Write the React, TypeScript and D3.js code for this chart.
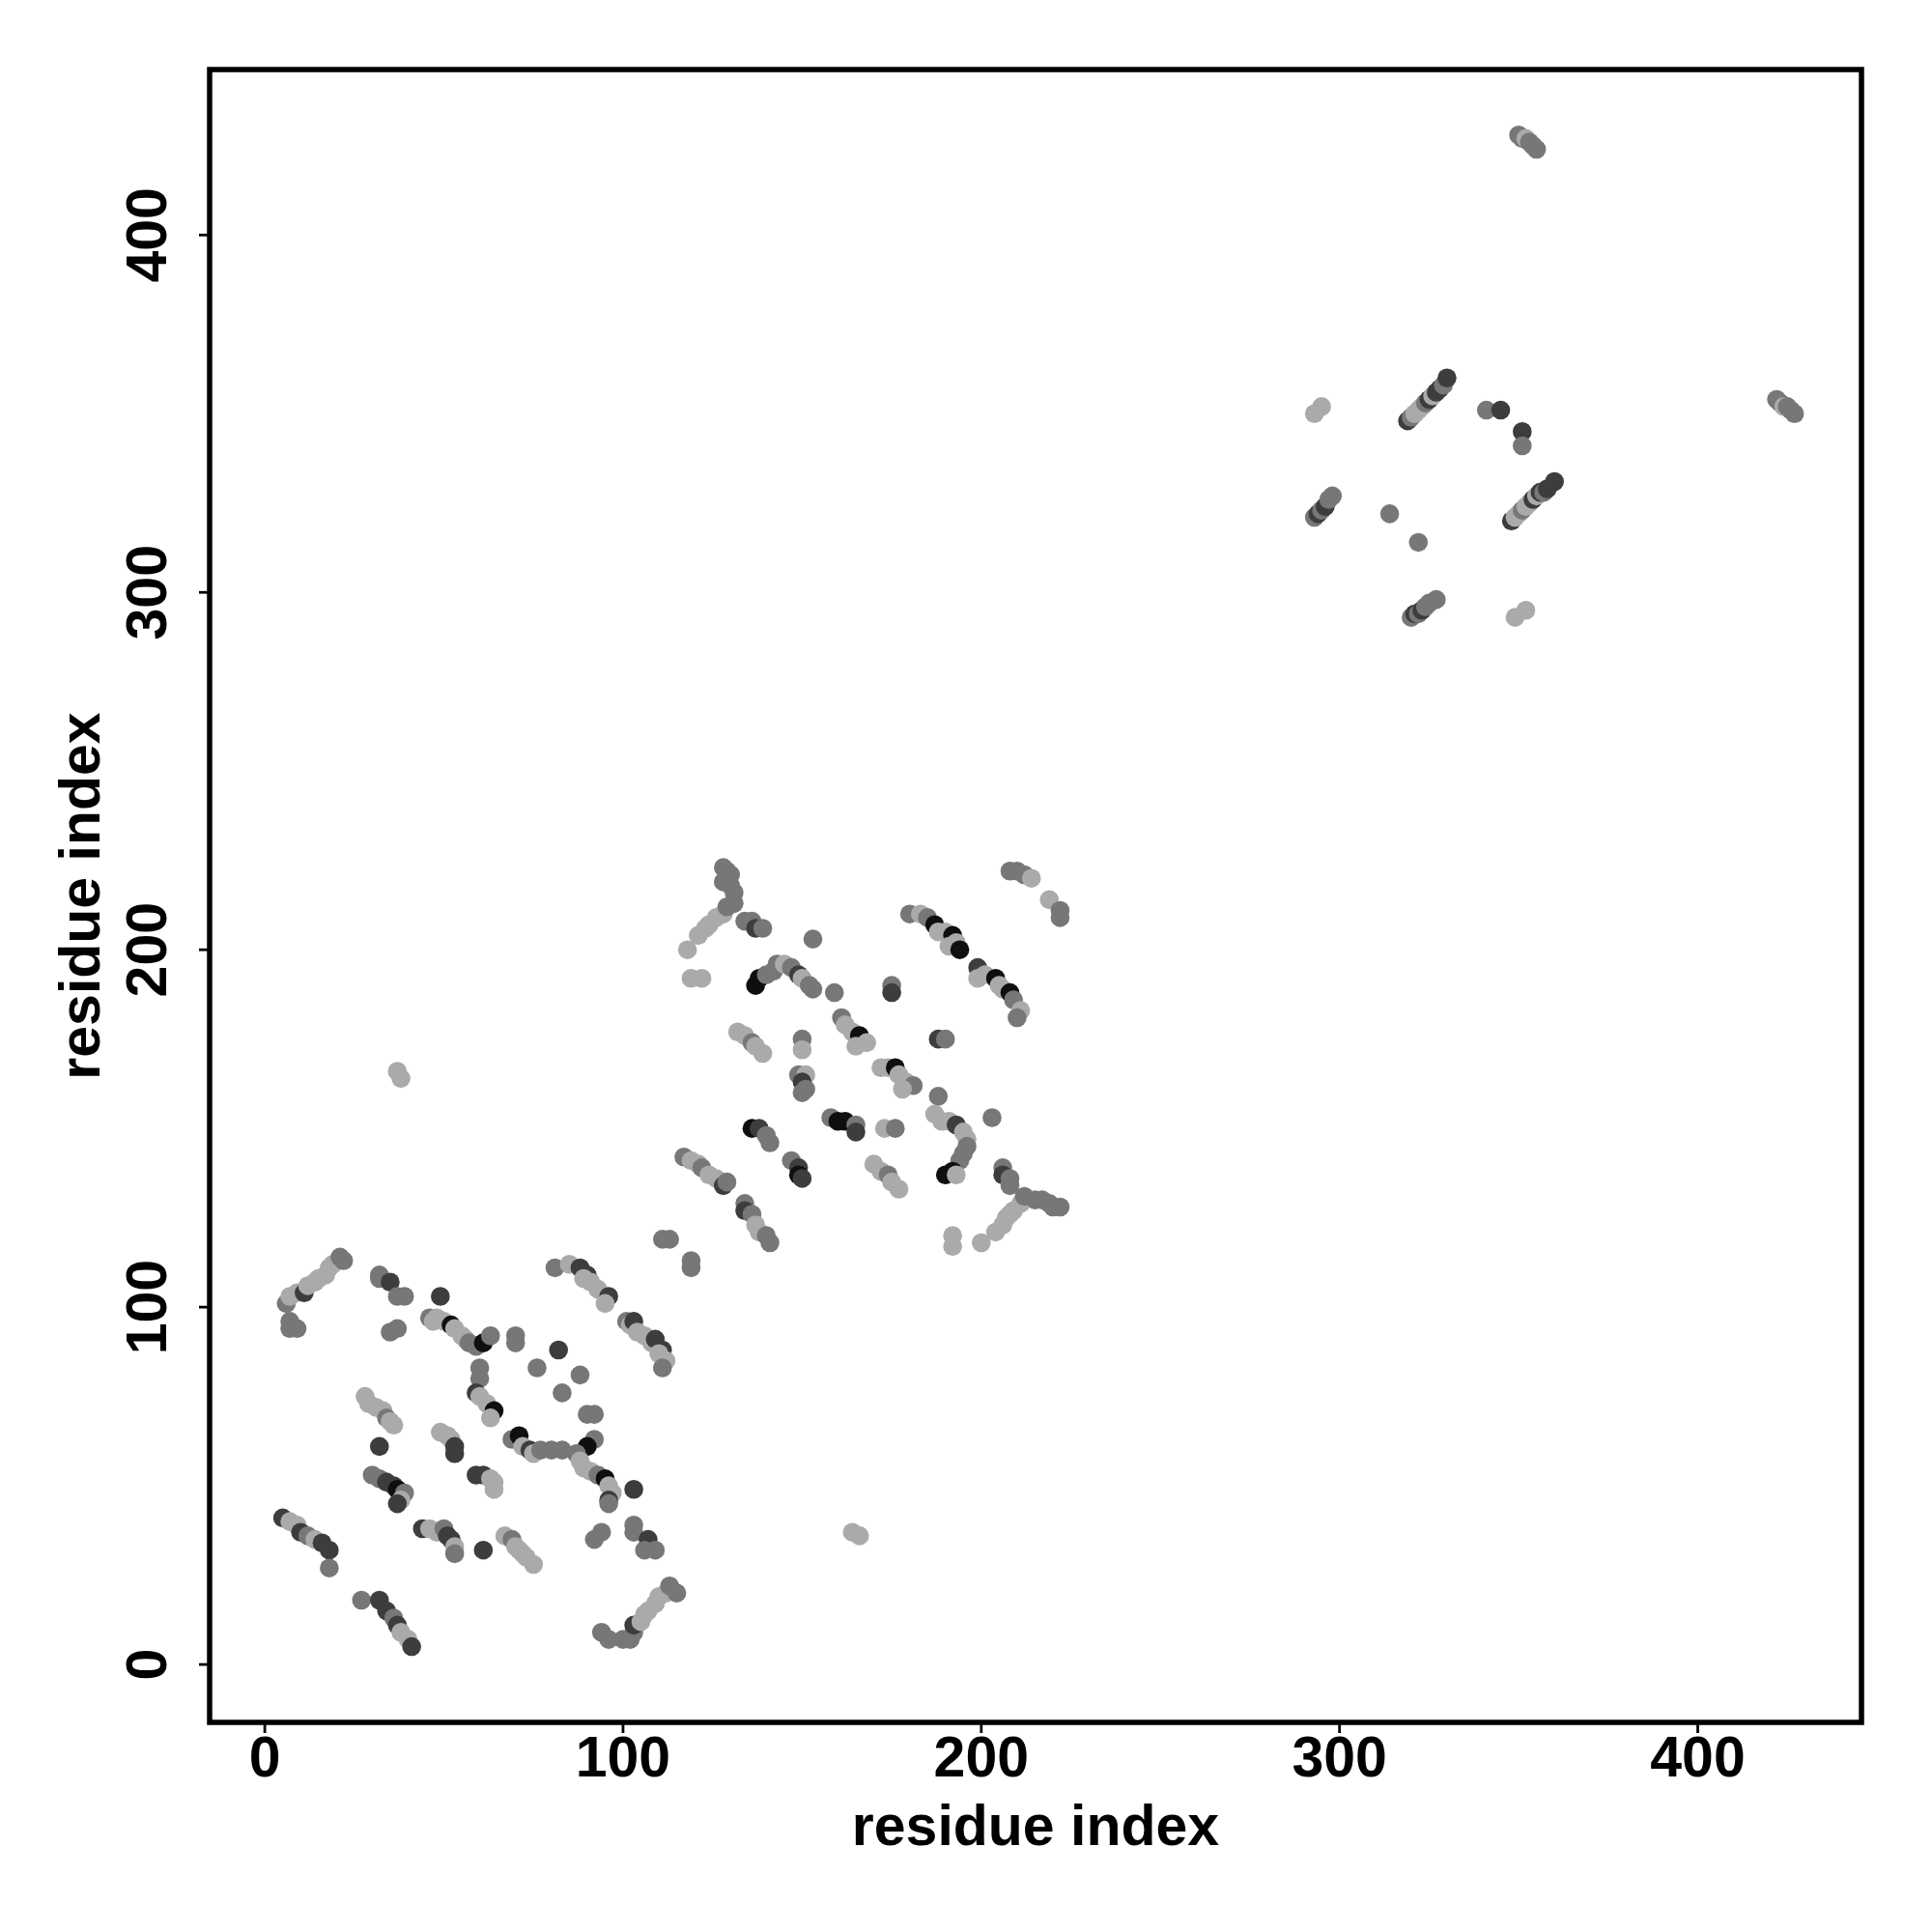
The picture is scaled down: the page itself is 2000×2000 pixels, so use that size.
import React from "react";
import * as d3 from "d3";

// level: 0 = black, 1 = dark grey, 2 = mid grey, 3 = light grey
type P = [number, number, number];

const lowerBlock: P[] = [
  [5,41,1],[7,40,3],[9,39,3],[10,37,1],[12,36,2],[14,35,3],[16,34,1],[18,32,1],[18,27,2],
  [27,18,2],[32,18,1],[34,15,1],[36,13,2],[37,11,1],[38,9,3],[40,7,3],[41,5,1],
  [28,75,3],[29,73,3],[31,72,3],[33,71,3],[34,69,2],[35,68,3],[36,67,3],
  [32,61,1],
  [30,53,2],[32,52,2],[34,51,1],[36,50,1],[37,49,0],[39,48,2],[38,46,3],[37,45,1],
  [44,38,1],[46,38,3],[48,37,3],[50,38,2],[51,36,1],[52,35,1],[53,33,3],[53,31,2],
  [61,32,1],
  [67,36,3],[69,35,2],[70,33,3],[71,32,3],[72,31,3],[73,30,3],[75,28,3],
  [59,53,1],[61,53,1],[63,52,3],[64,51,3],[64,49,3],
  [49,65,3],[51,64,3],[52,63,3],[53,61,1],[53,59,1],
  [60,83,2],[60,80,2],[59,76,1],[60,75,3],[62,73,3],[64,71,0],[63,69,3],
  [69,63,2],[71,64,0],[72,61,3],[74,60,1],[75,59,3],[77,60,2],[80,60,2],[83,60,2],
  [76,83,2],[88,81,2],[83,76,2],[90,70,2],[92,70,2],[92,63,2],[90,61,0],
  [87,59,2],[88,57,3],[89,55,3],[91,54,3],[93,53,2],[95,52,0],[96,50,3],[97,48,3],[96,46,1],[96,45,2],
  [103,49,1],
  [92,35,2],[94,37,2],
  [103,39,2],[103,37,2],[107,35,1],[106,32,2],[109,32,2],
  [100,7,2],[102,7,2],[103,9,2],[103,11,1],[105,12,3],[106,14,3],[107,15,3],[109,17,3],[110,19,3],[112,20,3],[113,22,2],[115,20,2],
  [94,9,2],[96,7,2],
  [6,101,2],[7,103,3],[9,104,3],[11,104,1],[12,106,3],[14,107,3],[15,108,3],[17,109,3],[18,111,3],[19,112,3],[21,114,2],[22,113,2],
  [7,96,2],[9,94,2],[7,94,2],
  [32,109,2],[32,108,2],[35,107,1],[37,103,2],[39,103,2],
  [35,93,2],[37,94,2],
  [49,103,1],
  [46,97,2],[47,96,3],[48,97,3],[50,96,3],[52,95,0],[53,94,3],[55,92,3],[56,91,3],[57,90,2],[59,89,2],[61,90,0],[63,92,2],
  [70,92,2],[70,90,2],
  [81,111,2],[85,112,3],[88,111,1],[90,109,1],[91,107,3],[93,105,3],[96,103,1],[95,101,3],[89,108,3],
  [101,96,2],[102,95,3],[103,96,1],[104,93,3],[106,92,3],[108,90,3],[109,91,1],[111,88,1],[110,87,3],[112,85,3],[111,83,2],
  [82,88,1],
];

const offDiagonal: P[] = [
  [164,37,3],[166,36,3],
  [37,166,3],[38,164,3],
];

const middleBlock: P[] = [
  [111,119,2],[113,119,2],[119,113,2],[119,111,2],
  [117,142,2],[119,141,3],[121,140,3],[122,139,2],[124,137,3],[126,136,3],[128,134,1],[129,135,2],
  [134,129,2],[134,127,1],[136,126,2],[137,123,3],[138,121,3],[140,120,2],[141,118,2],
  [136,150,0],[138,150,1],[140,148,2],[141,146,2],
  [147,141,2],[149,139,1],[149,137,0],[150,136,1],
  [149,165,2],[151,165,3],[150,163,1],[151,161,2],[150,160,2],
  [158,153,2],[160,152,0],
  [172,167,3],[174,167,3],[176,167,0],[177,165,3],[179,163,3],[181,162,2],[178,161,3],
  [188,159,2],[203,153,2],
  [162,152,0],[165,151,2],[165,149,1],
  [173,150,3],[176,150,2],
  [187,154,3],[189,152,3],[191,152,3],[193,151,1],[195,149,3],[196,147,3],[196,145,2],[195,143,2],[194,141,2],[192,138,0],[190,137,0],[193,137,3],
  [170,140,3],[172,138,3],[174,137,2],[175,135,3],[177,133,3],
  [206,139,2],[206,137,1],[208,136,2],[208,134,2],
  [204,121,3],[206,123,3],[207,125,3],[208,126,3],[209,127,3],[211,129,3],[212,131,2],[215,130,2],[217,130,2],[219,129,2],[220,128,2],[222,128,2],
  [192,120,3],[192,117,3],[200,118,3],
  [128,223,2],[129,222,2],[130,221,2],[128,219,2],[130,218,2],[131,216,2],[131,213,2],
  [118,200,3],[121,204,3],[123,206,3],[124,207,3],[126,209,3],[128,210,3],[129,212,2],
  [119,192,3],[122,192,3],
  [134,208,2],[136,208,2],[137,206,1],[139,206,2],
  [153,203,2],
  [137,190,0],[138,192,0],[140,193,2],[142,194,2],[143,196,2],[145,196,3],[147,195,2],[149,193,1],[150,192,3],[152,190,2],[153,189,2],
  [159,188,2],
  [132,177,3],[134,176,3],[136,174,2],[137,173,3],[139,171,3],
  [150,175,2],[150,172,3],
  [208,222,2],[210,222,2],[212,221,2],[214,220,3],
  [219,214,3],[222,211,2],[222,209,2],
  [180,210,2],[183,210,3],[185,209,2],[187,207,0],[188,205,3],[190,205,3],[192,204,0],[193,202,3],[191,201,3],[194,200,0],
  [199,195,1],[199,192,3],[201,193,3],[204,192,0],[205,190,3],[206,189,3],[208,188,0],[209,186,2],[211,183,3],[210,181,2],
  [175,190,2],[175,188,1],
  [188,175,1],[190,175,2],
  [161,181,2],[162,179,3],[164,177,3],[166,176,0],[168,174,3],[165,173,3],
];

const upperBlock: P[] = [
  [350,428,2],[351,427,2],[352,427,3],[353,426,2],[354,425,2],[355,424,2],
  [422,354,2],[423,353,2],[424,352,3],[425,352,2],[426,351,2],[427,350,2],
  [293,350,3],[295,352,3],
  [319,348,1],[320,349,2],[321,350,3],[322,351,3],[323,352,3],[324,353,2],[325,354,1],[326,355,3],[327,356,1],[328,357,1],[329,358,2],[330,360,1],
  [341,351,2],[345,351,1],[351,345,1],[351,341,2],
  [293,321,2],[294,322,1],[295,323,2],[296,324,1],[297,326,2],[298,327,2],
  [314,322,2],[322,314,2],
  [348,320,1],[349,321,3],[350,322,3],[351,323,2],[352,324,3],[353,325,3],[354,326,1],[355,327,3],[356,328,1],[357,328,2],[358,329,1],[360,331,1],
  [320,293,2],[321,294,1],[322,294,2],[323,295,1],[324,296,2],[325,297,2],[327,298,2],
  [349,293,3],[352,295,3],
];

const xTicks = [0, 100, 200, 300, 400];
const yTicks = [0, 100, 200, 300, 400];
const xLabel = "residue index";
const yLabel = "residue index";

const levelColors = ["#0f0f0f", "#3d3d3d", "#777777", "#aaaaaa"];

export default function App() {
  const left = 217, right = 1927, top = 72, bottom = 1783;
  const x = d3.scaleLinear().domain([-15.4, 445.7]).range([left, right]);
  const y = d3.scaleLinear().domain([-16.2, 446.3]).range([bottom, top]);
  const color = d3.scaleOrdinal<number, string>().domain([0, 1, 2, 3]).range(levelColors);
  const points = [...lowerBlock, ...offDiagonal, ...middleBlock, ...upperBlock];
  const font = "'Liberation Sans', Arial, Helvetica, sans-serif";
  return (
    <svg width={2000} height={2000} style={{ position: "absolute", left: 0, top: 0, background: "#fff" }}
      fontFamily={font} fontWeight="bold">
      <rect x={0} y={0} width={2000} height={2000} fill="#fff" />
      {points.map((p, i) => (
        <circle key={i} cx={x(p[0])} cy={y(p[1])} r={9.8} fill={color(p[2])} />
      ))}
      <rect x={left} y={top} width={right - left} height={bottom - top} fill="none" stroke="#000" strokeWidth={5.5} />
      {xTicks.map((t) => (
        <g key={"x" + t}>
          <line x1={x(t)} x2={x(t)} y1={bottom} y2={bottom + 11} stroke="#000" strokeWidth={2.8} />
          <text x={x(t)} y={1839} fontSize={59} textAnchor="middle">{t}</text>
        </g>
      ))}
      {yTicks.map((t) => (
        <g key={"y" + t}>
          <line x1={left} x2={left - 11} y1={y(t)} y2={y(t)} stroke="#000" strokeWidth={2.8} />
          <text transform={`translate(172,${y(t)}) rotate(-90)`} fontSize={59} textAnchor="middle">{t}</text>
        </g>
      ))}
      <text x={(left + right) / 2} y={1910} fontSize={59} textAnchor="middle">{xLabel}</text>
      <text transform={`translate(103,${(top + bottom) / 2}) rotate(-90)`} fontSize={59} textAnchor="middle">{yLabel}</text>
    </svg>
  );
}
